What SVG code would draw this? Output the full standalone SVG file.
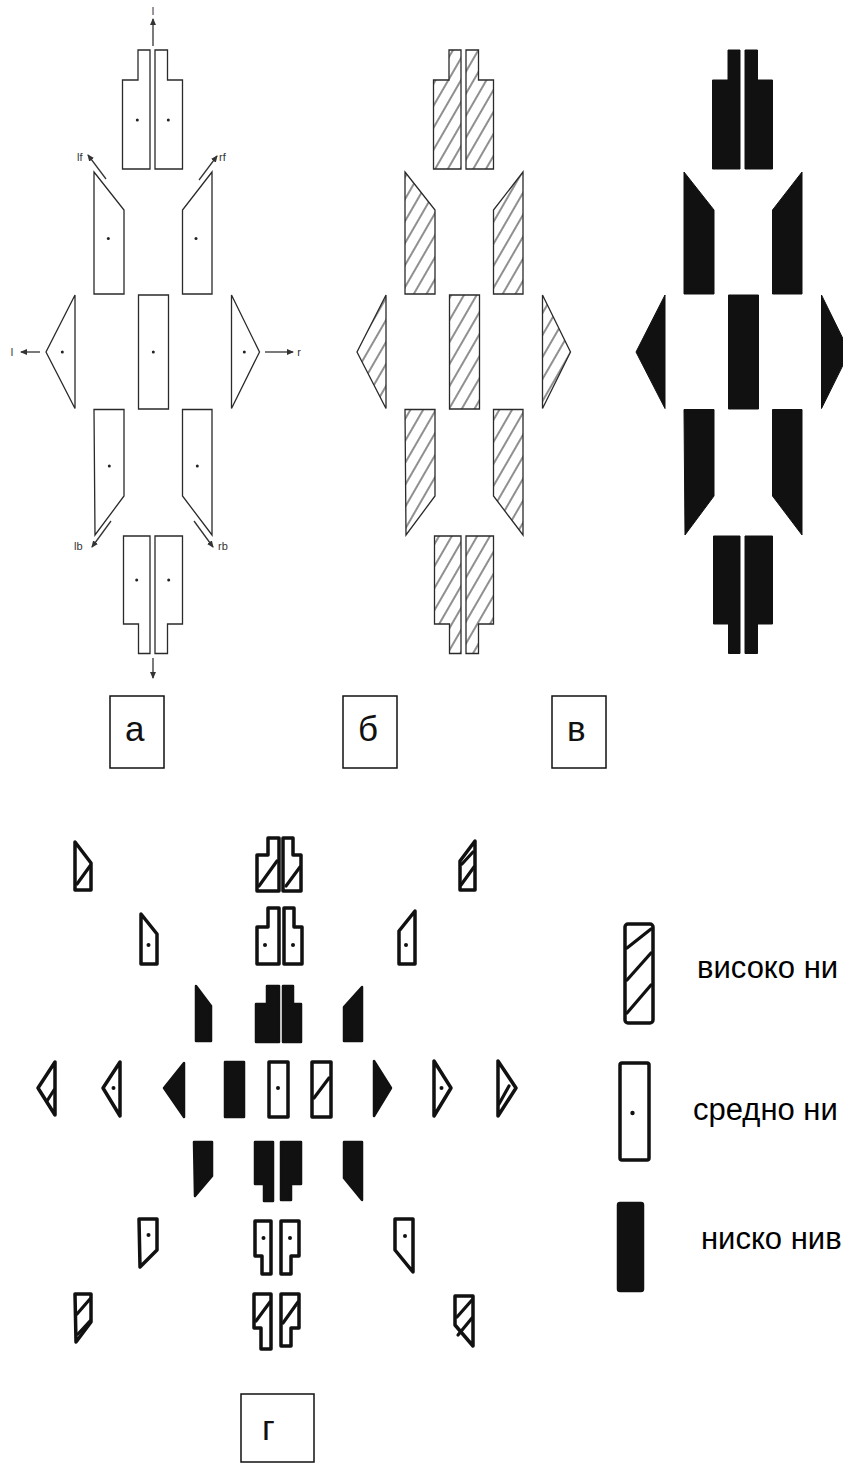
<svg xmlns="http://www.w3.org/2000/svg" width="843" height="1463" viewBox="0 0 843 1463">
<style>
.bg{fill:#fff}
.out{fill:#fff;stroke:#2a2a2a;stroke-width:1.3;stroke-linejoin:miter}
.hat{fill:url(#hatch);stroke:#2a2a2a;stroke-width:1.3}
.blk{fill:#111;stroke:#111;stroke-width:1}
.dot{fill:#222}
.lbl{font-family:"Liberation Sans",Arial,sans-serif;font-size:11px;fill:#333}
.arr{stroke:#333;stroke-width:1.3;fill:none;marker-end:url(#ah)}
.box{fill:#fff;stroke:#111;stroke-width:1.5}
.boxt{font-family:"Liberation Sans",Arial,sans-serif;font-size:35px;fill:#111}
.leg{font-family:"Liberation Sans",Arial,sans-serif;font-size:31px;fill:#000}
.g-o{fill:#fff;stroke:#111;stroke-width:3.5;stroke-linejoin:round}
.g-b{fill:#111;stroke:#111;stroke-width:2.5;stroke-linejoin:round}
.g-s{stroke:#111;stroke-width:3.2;stroke-linecap:round;fill:none}
.g-d{fill:#111}
</style>
<defs>
<marker id="ah" markerWidth="7" markerHeight="6" refX="6" refY="3" orient="auto" markerUnits="userSpaceOnUse"><path d="M0,0 L7,3 L0,6 Z" fill="#333"/></marker>
<pattern id="hatch" patternUnits="userSpaceOnUse" width="11" height="11" patternTransform="rotate(30)"><line x1="5" y1="-2" x2="5" y2="13" stroke="#333" stroke-width="1.1"/></pattern>
<path id="pTL" d="M122.5,169 V80 H138 V50 H150 V169 Z"/>
<path id="pTR" d="M155,169 V50 H167.5 V80 H182.5 V169 Z"/>
<path id="pFL" d="M94,172 L124,210 V294 H94 Z"/>
<path id="pFR" d="M212,172 L182.5,210 V294 H212 Z"/>
<path id="pC" d="M138.5,295 H168.5 V409 H138.5 Z"/>
<path id="pLT" d="M75,295 V408.5 L46,352 Z"/>
<path id="pRT" d="M231.5,295 V408.5 L259.5,352 Z"/>
<path id="pBL" d="M94,409.5 H124 V496 L95,535 Z"/>
<path id="pBR" d="M182.5,409.5 H212 V535 L182.5,496 Z"/>
<path id="pBTL" d="M123.5,536 H150 V653.5 H138.5 V624 H123.5 Z"/>
<path id="pBTR" d="M155,536 H182.5 V624 H167.5 V653.5 H155 Z"/>
</defs>
<rect class="bg" x="0" y="0" width="843" height="1463"/>

<!-- Panel a -->
<g id="panel-a">
<g id="a-top-left"><use href="#pTL" class="out"/><circle class="dot" cx="137.3" cy="120" r="1.5"/></g>
<g id="a-top-right"><use href="#pTR" class="out"/><circle class="dot" cx="168.3" cy="120" r="1.5"/></g>
<g id="a-front-left"><use href="#pFL" class="out"/><circle class="dot" cx="108.3" cy="238.5" r="1.5"/></g>
<g id="a-front-right"><use href="#pFR" class="out"/><circle class="dot" cx="196" cy="238.5" r="1.5"/></g>
<g id="a-center"><use href="#pC" class="out"/><circle class="dot" cx="153.3" cy="352" r="1.5"/></g>
<g id="a-left"><use href="#pLT" class="out"/><circle class="dot" cx="62.3" cy="352" r="1.5"/></g>
<g id="a-right"><use href="#pRT" class="out"/><circle class="dot" cx="244.3" cy="352" r="1.5"/></g>
<g id="a-back-left"><use href="#pBL" class="out"/><circle class="dot" cx="109.3" cy="466" r="1.5"/></g>
<g id="a-back-right"><use href="#pBR" class="out"/><circle class="dot" cx="197.3" cy="466" r="1.5"/></g>
<g id="a-bottom-left"><use href="#pBTL" class="out"/><circle class="dot" cx="136.7" cy="580" r="1.5"/></g>
<g id="a-bottom-right"><use href="#pBTR" class="out"/><circle class="dot" cx="168.7" cy="580" r="1.5"/></g>
</g>
<g id="a-connectors">
<line class="arr" x1="153" y1="46" x2="153" y2="19"/>
<line class="arr" x1="106" y1="179" x2="88" y2="155"/>
<line class="arr" x1="199" y1="180" x2="217" y2="156"/>
<line class="arr" x1="40" y1="352" x2="21" y2="352"/>
<line class="arr" x1="265" y1="352" x2="293" y2="352"/>
<line class="arr" x1="111" y1="521" x2="92" y2="547"/>
<line class="arr" x1="194" y1="521" x2="213" y2="547"/>
<line class="arr" x1="153" y1="658" x2="153" y2="678"/>
</g>
<g id="a-labels">
<text class="lbl" x="153" y="15" text-anchor="middle">l</text>
<text class="lbl" x="77" y="161">lf</text>
<text class="lbl" x="219" y="161">rf</text>
<text class="lbl" x="12" y="356" text-anchor="middle">l</text>
<text class="lbl" x="299" y="356" text-anchor="middle">r</text>
<text class="lbl" x="74" y="550">lb</text>
<text class="lbl" x="218" y="550">rb</text>
</g>

<!-- Panel б -->
<g id="panel-b" transform="translate(311,0)">
<g id="b-top-left"><use href="#pTL" class="hat"/></g>
<g id="b-top-right"><use href="#pTR" class="hat"/></g>
<g id="b-front-left"><use href="#pFL" class="hat"/></g>
<g id="b-front-right"><use href="#pFR" class="hat"/></g>
<g id="b-center"><use href="#pC" class="hat"/></g>
<g id="b-left"><use href="#pLT" class="hat"/></g>
<g id="b-right"><use href="#pRT" class="hat"/></g>
<g id="b-back-left"><use href="#pBL" class="hat"/></g>
<g id="b-back-right"><use href="#pBR" class="hat"/></g>
<g id="b-bottom-left"><use href="#pBTL" class="hat"/></g>
<g id="b-bottom-right"><use href="#pBTR" class="hat"/></g>
</g>

<!-- Panel в -->
<g id="panel-v" transform="translate(590,0)">
<g id="v-top-left"><use href="#pTL" class="blk"/></g>
<g id="v-top-right"><use href="#pTR" class="blk"/></g>
<g id="v-front-left"><use href="#pFL" class="blk"/></g>
<g id="v-front-right"><use href="#pFR" class="blk"/></g>
<g id="v-center"><use href="#pC" class="blk"/></g>
<g id="v-left"><use href="#pLT" class="blk"/></g>
<g id="v-right"><use href="#pRT" class="blk"/></g>
<g id="v-back-left"><use href="#pBL" class="blk"/></g>
<g id="v-back-right"><use href="#pBR" class="blk"/></g>
<g id="v-bottom-left"><use href="#pBTL" class="blk"/></g>
<g id="v-bottom-right"><use href="#pBTR" class="blk"/></g>
</g>

<!-- Caption boxes -->
<g id="cap-a"><rect class="box" x="110" y="696" width="54" height="72"/><text class="boxt" x="125" y="741">а</text></g>
<g id="cap-b"><rect class="box" x="343" y="696" width="54" height="72"/><text class="boxt" x="358" y="741">б</text></g>
<g id="cap-v"><rect class="box" x="552" y="696" width="54" height="72"/><text class="boxt" x="567" y="741">в</text></g>
<g id="cap-g"><rect class="box" x="241" y="1394" width="73" height="68"/><text class="boxt" x="262" y="1440">г</text></g>

<!-- Panel г -->
<g id="panel-g">
<g id="g-r1-left"><path class="g-o" d="M75,842 L91,863 V890 H75 Z"/><line class="g-s" x1="77" y1="884" x2="90" y2="866"/></g>
<g id="g-r1-cl"><path class="g-o" d="M257,891 V855 H268 V838 H279 V891 Z"/><line class="g-s" x1="259" y1="886" x2="277" y2="861"/></g>
<g id="g-r1-cr"><path class="g-o" d="M283,891 V838 H293 V855 H301 V891 Z"/><line class="g-s" x1="286" y1="886" x2="300" y2="867"/></g>
<g id="g-r1-right"><path class="g-o" d="M475,841 L460,861 V890 H475 Z"/><line class="g-s" x1="461" y1="885" x2="474" y2="867"/><line class="g-s" x1="462" y1="864" x2="473" y2="852"/></g>
<g id="g-r2-left"><path class="g-o" d="M141,914 L157,934 V964 H141 Z"/><circle class="g-d" cx="148.5" cy="945" r="2"/></g>
<g id="g-r2-cl"><path class="g-o" d="M257,964 V927 H268 V908 H279 V964 Z"/><circle class="g-d" cx="265" cy="945" r="2"/></g>
<g id="g-r2-cr"><path class="g-o" d="M284,964 V908 H294 V927 H302 V964 Z"/><circle class="g-d" cx="293" cy="945" r="2"/></g>
<g id="g-r2-right"><path class="g-o" d="M415,911 L399,931 V964 H415 Z"/><circle class="g-d" cx="406" cy="945" r="2"/></g>
<g id="g-r3-left"><path class="g-b" d="M196,986 L211,1006 V1041 H196 Z"/></g>
<g id="g-r3-cl"><path class="g-b" d="M256,1042 V1004 H267 V986 H279 V1042 Z"/></g>
<g id="g-r3-cr"><path class="g-b" d="M283,1042 V986 H293 V1004 H301 V1042 Z"/></g>
<g id="g-r3-right"><path class="g-b" d="M362,987 L344,1007 V1041 H362 Z"/></g>
<g id="g-r4-1"><path class="g-o" d="M55,1062 V1115 L38,1088 Z"/><line class="g-s" x1="47" y1="1101" x2="54" y2="1090"/></g>
<g id="g-r4-2"><path class="g-o" d="M120,1062 V1116 L103,1088 Z"/><circle class="g-d" cx="113.5" cy="1088" r="2"/></g>
<g id="g-r4-3"><path class="g-b" d="M184,1063 V1117 L164,1088 Z"/></g>
<g id="g-r4-4"><rect class="g-b" x="225" y="1062" width="19" height="55"/></g>
<g id="g-r4-5"><rect class="g-o" x="269" y="1062" width="19" height="55"/><circle class="g-d" cx="278" cy="1088" r="2"/></g>
<g id="g-r4-6"><rect class="g-o" x="312" y="1062" width="19" height="55"/><line class="g-s" x1="314" y1="1098" x2="329" y2="1078"/></g>
<g id="g-r4-7"><path class="g-b" d="M374,1061 V1116 L391,1088 Z"/></g>
<g id="g-r4-8"><path class="g-o" d="M434,1061 V1116 L451,1088 Z"/><circle class="g-d" cx="441.5" cy="1088" r="2"/></g>
<g id="g-r4-9"><path class="g-o" d="M498,1061 V1116 L516,1088 Z"/><line class="g-s" x1="499" y1="1104" x2="509" y2="1086"/></g>
<g id="g-r5-left"><path class="g-b" d="M194,1142 H212 V1176 L195,1196 Z"/></g>
<g id="g-r5-cl"><path class="g-b" d="M255,1142 H273 V1201 H264 V1184 H255 Z"/></g>
<g id="g-r5-cr"><path class="g-b" d="M281,1142 H301 V1184 H291 V1200 H281 Z"/></g>
<g id="g-r5-right"><path class="g-b" d="M344,1142 H362 V1200 L344,1178 Z"/></g>
<g id="g-r6-left"><path class="g-o" d="M139,1219 H157 V1250 L140,1267 Z"/><circle class="g-d" cx="148.5" cy="1235" r="2"/></g>
<g id="g-r6-cl"><path class="g-o" d="M255,1221 H271 V1274 H262 V1256 H255 Z"/><circle class="g-d" cx="263.5" cy="1238" r="2"/></g>
<g id="g-r6-cr"><path class="g-o" d="M281,1221 H299 V1256 H291 V1274 H281 Z"/><circle class="g-d" cx="290" cy="1238" r="2"/></g>
<g id="g-r6-right"><path class="g-o" d="M395,1219 H413 V1272 L395,1250 Z"/><circle class="g-d" cx="405" cy="1236" r="2"/></g>
<g id="g-r7-left"><path class="g-o" d="M75,1294 H91 V1322 L76,1342 Z"/><line class="g-s" x1="77" y1="1314" x2="90" y2="1299"/><line class="g-s" x1="78" y1="1334" x2="90" y2="1321"/></g>
<g id="g-r7-cl"><path class="g-o" d="M254,1294 H271 V1349 H261 V1328 H254 Z"/><line class="g-s" x1="256" y1="1321" x2="270" y2="1302"/></g>
<g id="g-r7-cr"><path class="g-o" d="M281,1294 H299 V1328 H291 V1346 H281 Z"/><line class="g-s" x1="283" y1="1323" x2="298" y2="1302"/></g>
<g id="g-r7-right"><path class="g-o" d="M455,1296 H473 V1346 L455,1325 Z"/><line class="g-s" x1="457" y1="1317" x2="472" y2="1300"/><line class="g-s" x1="458" y1="1335" x2="472" y2="1318"/></g>
</g>

<!-- Legend -->
<g id="legend-high"><rect class="g-o" x="625" y="924" width="28" height="99" rx="3"/><line class="g-s" x1="627" y1="948" x2="651" y2="929"/><line class="g-s" x1="627" y1="980" x2="651" y2="953"/><line class="g-s" x1="627" y1="1013" x2="651" y2="985"/><text class="leg" x="697" y="978">високо ни</text></g>
<g id="legend-mid"><rect class="g-o" x="620" y="1063" width="29" height="97" rx="2"/><circle class="g-d" cx="632.5" cy="1113" r="2.2"/><text class="leg" x="693" y="1120">средно ни</text></g>
<g id="legend-low"><rect class="g-b" x="618" y="1203" width="25" height="88" rx="2"/><text class="leg" x="701" y="1249">ниско нив</text></g>
</svg>
